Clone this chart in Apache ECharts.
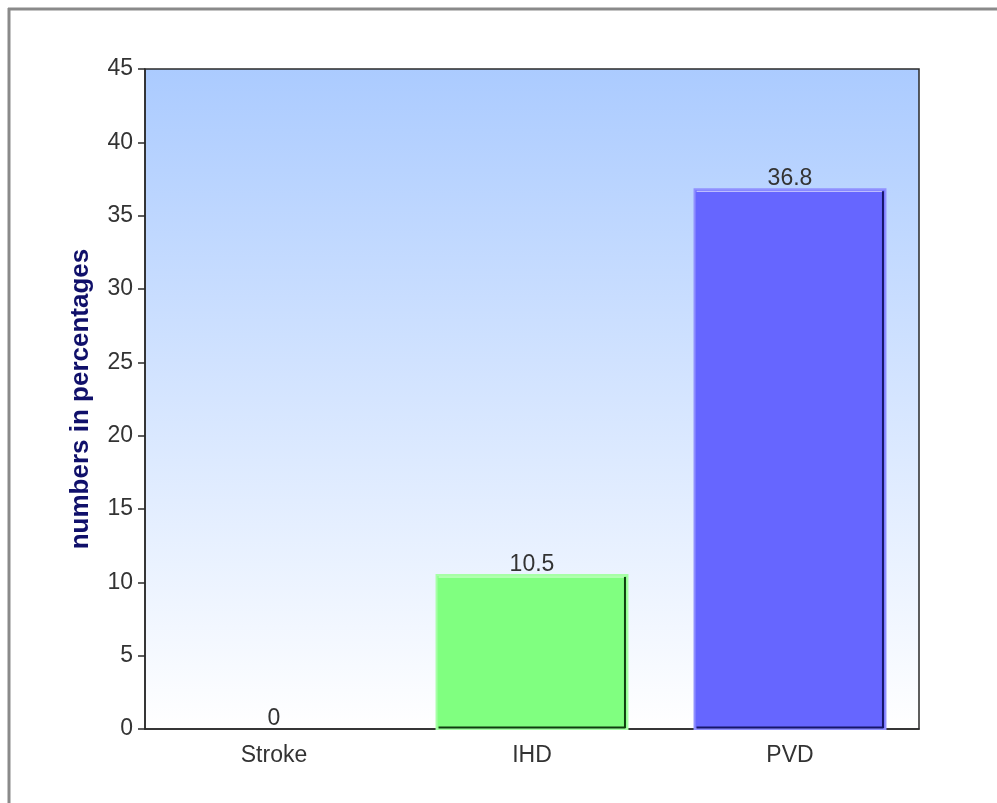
<!DOCTYPE html>
<html>
<head>
<meta charset="utf-8">
<script src="https://cdn.jsdelivr.net/npm/echarts@6/dist/echarts.min.js"></script>
<style>
  html, body { margin: 0; padding: 0; background: #fff; }
  #chart { width: 997px; height: 803px; }
</style>
</head>
<body>
<div id="chart"></div>
<script>
const categories = ['Stroke', 'IHD', 'PVD'];
const values = [0, 10.5, 36.8];
const barColors = ['#8080ff', '#80ff80', '#6666ff'];
const barEdgeColors = ['#a8a8ff', '#a6ffa6', '#9090ff'];
const barShadeColors = ['#202060', '#0e3e0e', '#16166a'];
const yTicks = { min: 0, max: 45, interval: 5 };

const FONT = 'Liberation Sans, Arial, sans-serif';
const chart = echarts.init(document.getElementById('chart'));

// Bevelled bar: flat fill, pale outer edge, bright inner top line, dark right and bottom edges.
function renderBar(params, api) {
  const idx = api.value(0);
  const val = api.value(1);
  const base = api.coord([idx, 0]);
  const top = api.coord([idx, val]);
  const w = api.size([1, 0])[0] * 0.74;
  const x0 = base[0] - w / 2;
  const x1 = base[0] + w / 2;
  const y0 = top[1];
  const y1 = base[1];
  const children = [];
  if (y1 - y0 > 0.5) {
    children.push({
      type: 'rect',
      shape: { x: x0, y: y0, width: w, height: y1 - y0 },
      style: { fill: barColors[idx], stroke: barEdgeColors[idx], lineWidth: 2 }
    });
    children.push({
      type: 'line',
      shape: { x1: x0 + 2, y1: y0 + 2, x2: x1 - 3, y2: y0 + 2 },
      style: { stroke: 'rgba(255,255,255,0.75)', lineWidth: 1 }
    });
    children.push({
      type: 'line',
      shape: { x1: x1 - 2.5, y1: y0 + 2, x2: x1 - 2.5, y2: y1 - 1 },
      style: { stroke: barShadeColors[idx], lineWidth: 2 }
    });
    children.push({
      type: 'line',
      shape: { x1: x0 + 2, y1: y1 - 1.5, x2: x1 - 2, y2: y1 - 1.5 },
      style: { stroke: barShadeColors[idx], lineWidth: 2 }
    });
  }
  children.push({
    type: 'text',
    x: base[0],
    y: y0 + 1,
    style: {
      text: String(val),
      fill: '#333',
      font: '23px ' + FONT,
      align: 'center',
      verticalAlign: 'bottom'
    }
  });
  return { type: 'group', children: children };
}

chart.setOption({
  animation: false,
  backgroundColor: '#ffffff',
  grid: {
    left: 145, right: 78, top: 69, bottom: 74,
    show: true,
    borderColor: '#2a2a2a',
    borderWidth: 1.5,
    backgroundColor: new echarts.graphic.LinearGradient(0, 0, 0, 1, [
      { offset: 0, color: '#abcbff' },
      { offset: 1, color: '#ffffff' }
    ])
  },
  xAxis: {
    type: 'category',
    data: categories,
    axisLine: { lineStyle: { color: '#2a2a2a', width: 1.5 } },
    axisTick: { alignWithLabel: true, length: 6, lineStyle: { color: '#2a2a2a', width: 2 } },
    axisLabel: { color: '#333', fontSize: 23, fontFamily: FONT, margin: 15 },
    splitLine: { show: false }
  },
  yAxis: {
    type: 'value',
    min: yTicks.min, max: yTicks.max, interval: yTicks.interval,
    name: 'numbers in percentages',
    nameLocation: 'middle',
    nameGap: 51,
    nameTextStyle: { color: '#10106a', fontSize: 26, fontWeight: 'bold', fontFamily: FONT },
    axisLine: { show: true, lineStyle: { color: '#2a2a2a', width: 1.5 } },
    axisTick: { show: true, length: 7, lineStyle: { color: '#2a2a2a', width: 1.5 } },
    axisLabel: { color: '#333', fontSize: 23, fontFamily: FONT, margin: 12 },
    splitLine: { show: false }
  },
  series: [{
    type: 'custom',
    renderItem: renderBar,
    data: values.map((v, i) => [i, v])
  }],
  graphic: [
    { type: 'line', shape: { x1: 8, y1: 9, x2: 997, y2: 9 }, style: { stroke: '#8a8a8a', lineWidth: 3 } },
    { type: 'line', shape: { x1: 9, y1: 8, x2: 9, y2: 803 }, style: { stroke: '#8a8a8a', lineWidth: 3 } }
  ]
});
</script>
</body>
</html>
